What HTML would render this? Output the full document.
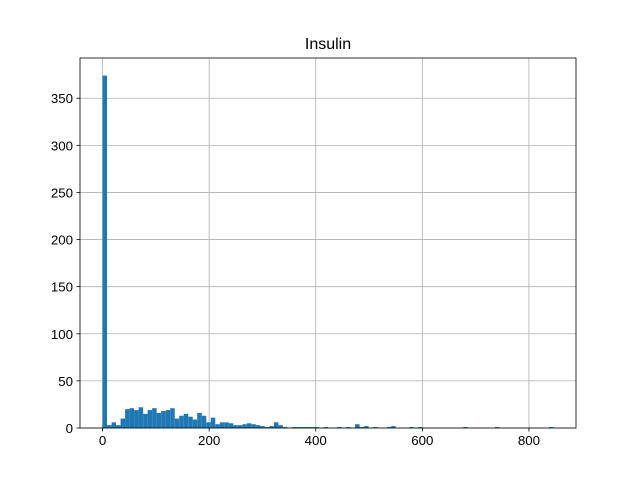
<!DOCTYPE html>
<html><head><meta charset="utf-8"><style>
body{margin:0;background:#fff}
svg{display:block;font-family:"Liberation Sans","DejaVu Sans",sans-serif}
</style></head><body>
<svg id="chart" width="640" height="480">
<rect width="640" height="480" fill="#fff"/>
<g id="grid"></g><g id="bars"></g><g id="axes"></g>
<text x="328" y="49" text-anchor="middle" font-size="16">Insulin</text>
</svg>
<script>
const binMin = 0;
const binMax = 846;
const counts = [374,3,6,3,10,20,21,19,22,15,19,21,16,18,19,21,10,13,15,12,9,16,13,6,11,4,6,6,5,3,3,4,5,4,3,2,1,2,6,3,1,0,1,1,1,1,1,1,0,1,0,0,1,0,1,0,4,1,2,0,1,0,0,1,2,0,0,0,1,0,1,0,0,0,0,0,0,0,0,0,1,0,0,0,0,0,0,1,0,0,0,0,0,0,0,0,0,0,0,1];
const xTicks = [0,200,400,600,800];
const yTicks = [0,50,100,150,200,250,300,350];

const L=80,R=576,T=58,B=428;
const xMin=-42.3,xMax=888.3,yMax=392.7;
const NS="http://www.w3.org/2000/svg";
function X(v){return L+(v-xMin)*(R-L)/(xMax-xMin);}
function Y(v){return B-v*(B-T)/yMax;}
function mk(tag,attrs,parent){const e=document.createElementNS(NS,tag);for(const k in attrs)e.setAttribute(k,attrs[k]);parent.appendChild(e);return e;}
const grid=document.getElementById('grid'),bars=document.getElementById('bars'),axes=document.getElementById('axes');
xTicks.forEach(t=>{
  const l=mk('line',{x1:X(t),x2:X(t),y1:T,y2:B,stroke:'#b0b0b0','stroke-width':0.8},grid);
  
  
  mk('line',{x1:X(t),x2:X(t),y1:B,y2:B+3.5,stroke:'#000','stroke-width':0.8},axes);
  const tx=mk('text',{x:X(t),y:B+17,'text-anchor':'middle','font-size':'13.3'},axes);
  tx.textContent=t;
  
  
});
yTicks.forEach(t=>{
  const l=mk('line',{x1:L,x2:R,y1:Y(t),y2:Y(t),stroke:'#b0b0b0','stroke-width':0.8},grid);
  
  
  mk('line',{x1:L-3.5,x2:L,y1:Y(t),y2:Y(t),stroke:'#000','stroke-width':0.8},axes);
  const tx=mk('text',{x:L-7,y:Y(t)+5,'text-anchor':'end','font-size':'13.3'},axes);
  tx.textContent=t;
  
  
});
const w=(binMax-binMin)/counts.length;
counts.forEach((c,i)=>{
  if(c<=0)return;
  const x0=X(binMin+i*w),x1=X(binMin+(i+1)*w);
  const r=mk('rect',{x:x0,y:Y(c),width:x1-x0,height:B-Y(c),fill:'#1f77b4'},bars);
  
  
});
const f=mk('rect',{x:L,y:T,width:R-L,height:B-T,fill:'none',stroke:'#000','stroke-width':0.8},axes);


</script>
</body></html>
